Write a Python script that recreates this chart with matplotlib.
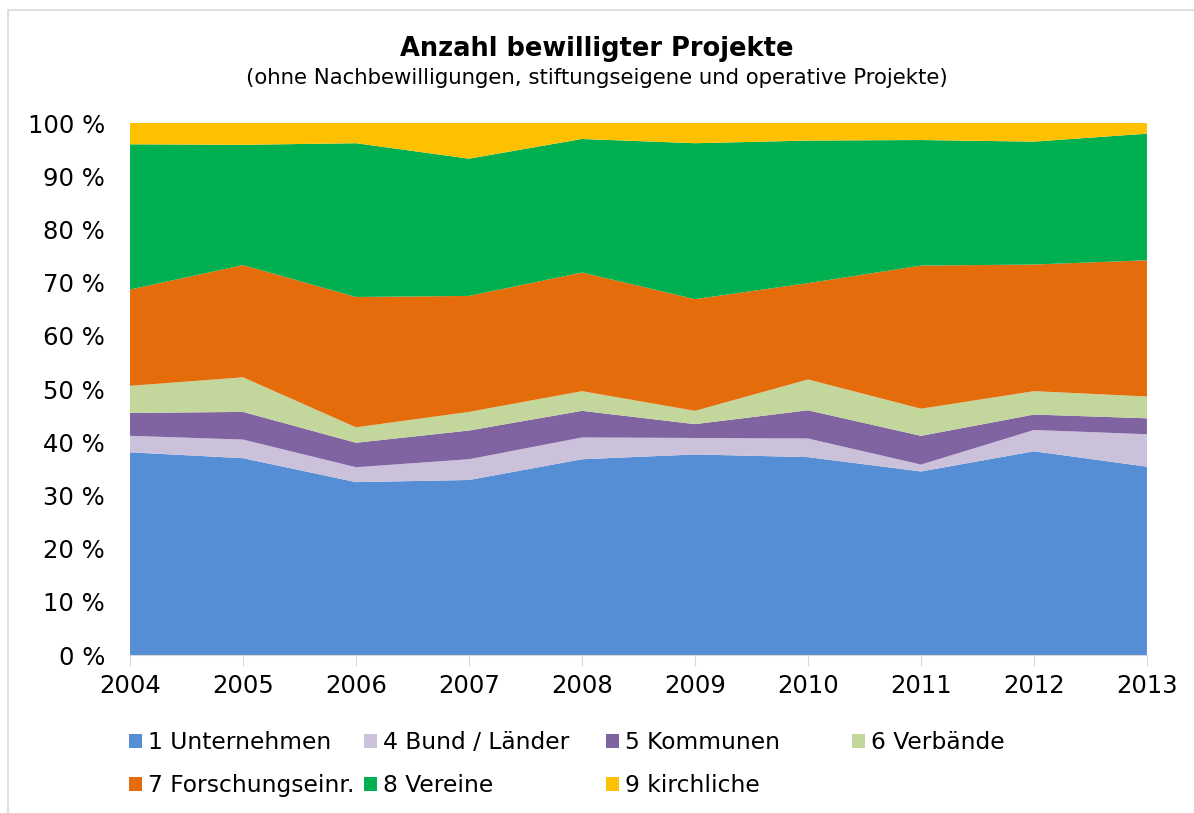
import matplotlib.pyplot as plt
from matplotlib.patches import Patch, Rectangle

# Jahre
years = [2004, 2005, 2006, 2007, 2008, 2009, 2010, 2011, 2012, 2013]

# Anteile in % je Zuwendungsempfänger
unternehmen = [38.1, 37.0, 32.5, 32.9, 36.8, 37.7, 37.2, 34.5, 38.3, 35.4]
bund_laender = [3.1, 3.5, 2.8, 3.9, 4.1, 3.1, 3.5, 1.3, 4.0, 6.1]
kommunen = [4.3, 5.2, 4.6, 5.4, 5.0, 2.6, 5.3, 5.4, 2.9, 3.0]
verbaende = [5.1, 6.5, 2.9, 3.5, 3.7, 2.5, 5.8, 5.1, 4.4, 4.1]
forschung = [18.1, 21.1, 24.5, 21.8, 22.3, 21.0, 18.1, 26.9, 23.8, 25.6]
vereine = [27.3, 22.6, 28.9, 25.8, 25.1, 29.3, 26.8, 23.6, 23.1, 23.8]
kirchliche = [4.0, 4.1, 3.8, 6.7, 3.0, 3.8, 3.3, 3.2, 3.5, 2.0]

labels = ["1 Unternehmen", "4 Bund / Länder", "5 Kommunen", "6 Verbände",
          "7 Forschungseinr.", "8 Vereine", "9 kirchliche"]
colors = ["#558ED5", "#CCC1DA", "#8064A2", "#C3D69B",
          "#E46C0A", "#00B050", "#FFC000"]

plt.rcParams["font.family"] = "DejaVu Sans"

fig = plt.figure(figsize=(11.94, 8.13), dpi=100)
ax = fig.add_axes([0.1089, 0.1943, 0.8517, 0.6544])

series = [unternehmen, bund_laender, kommunen, verbaende, forschung, vereine, kirchliche]
ax.stackplot(years, *series, colors=colors, labels=labels, linewidth=0)

ax.set_xlim(years[0], years[-1])
ax.set_ylim(0, 100)
ax.set_xticks(years)
ax.set_yticks(range(0, 101, 10))
ax.set_yticklabels([f"{v} %" for v in range(0, 101, 10)])
ax.tick_params(axis="x", labelsize=17.5, length=8, color="#D9D9D9", pad=6)
ax.tick_params(axis="y", labelsize=17.5, length=0, pad=18)
for s in ["top", "right", "left"]:
    ax.spines[s].set_visible(False)
ax.spines["bottom"].set_color("#D9D9D9")

# Titel
fig.text(0.5, 0.940, "Anzahl bewilligter Projekte", ha="center", va="center",
         fontsize=18.5, fontweight="bold")
fig.text(0.5, 0.904, "(ohne Nachbewilligungen, stiftungseigene und operative Projekte)",
         ha="center", va="center", fontsize=15.3)

# Legende: vier Spalten wie im Original (zeilenweise gefüllt)
col_x = [0.104, 0.301, 0.504, 0.710]
for c, x in enumerate(col_x):
    idx = [i for i in (c, c + 4) if i < len(labels)]
    hs = [Patch(facecolor=colors[i], edgecolor="none") for i in idx]
    fig.legend(hs, [labels[i] for i in idx], frameon=False,
               loc="upper left", bbox_to_anchor=(x, 0.106), fontsize=16.8,
               handlelength=0.55, handleheight=0.55, handletextpad=0.25,
               labelspacing=0.85, borderaxespad=0, borderpad=0.2)

# Rahmen
fig.patches.append(Rectangle((0.007, -0.1), 1.2, 1.1 - 10 / 813, transform=fig.transFigure,
                             fill=False, edgecolor="#D9D9D9", linewidth=1.2))

fig.savefig("out.png", dpi=100)
